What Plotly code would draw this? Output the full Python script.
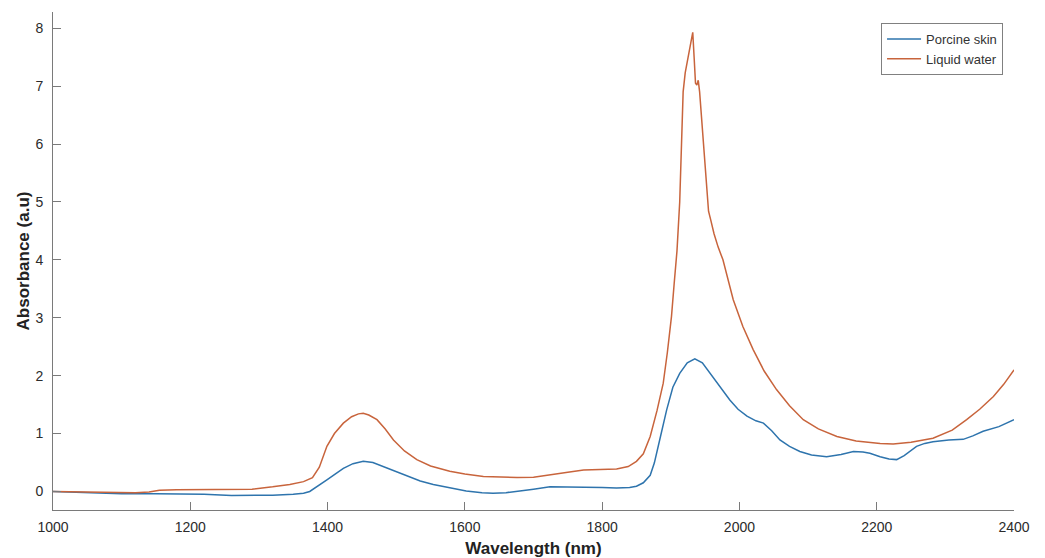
import plotly.graph_objects as go

# ---- data ----
skin_nm = [1000, 1050, 1100, 1150, 1185, 1220, 1260, 1290, 1320, 1350, 1365, 1374, 1387, 1399,
           1411, 1423, 1437, 1452, 1466, 1481, 1497, 1515, 1535, 1554, 1578, 1602, 1625, 1641,
           1660, 1676, 1700, 1724, 1750, 1773, 1800, 1821, 1840, 1850, 1860, 1870, 1876, 1885,
           1894, 1903, 1913, 1924, 1935, 1946, 1957, 1972, 1986, 1998, 2011, 2024, 2035, 2047,
           2059, 2073, 2088, 2105, 2127, 2148, 2166, 2180, 2190, 2205, 2218, 2229, 2240, 2258,
           2270, 2282, 2305, 2326, 2340, 2355, 2378, 2400]
skin_abs = [0.00, -0.02, -0.04, -0.04, -0.04, -0.05, -0.07, -0.07, -0.065, -0.05, -0.03, 0.00,
            0.10, 0.20, 0.30, 0.40, 0.48, 0.52, 0.50, 0.43, 0.35, 0.26, 0.18, 0.12, 0.06, 0.01,
            -0.02, -0.03, -0.02, 0.00, 0.04, 0.08, 0.08, 0.08, 0.07, 0.06, 0.07, 0.09, 0.15,
            0.28, 0.49, 0.95, 1.41, 1.80, 2.04, 2.22, 2.29, 2.22, 2.04, 1.80, 1.58, 1.42, 1.30,
            1.22, 1.18, 1.05, 0.89, 0.78, 0.69, 0.63, 0.60, 0.64, 0.69, 0.68, 0.66, 0.60, 0.56,
            0.55, 0.62, 0.78, 0.83, 0.86, 0.89, 0.90, 0.96, 1.04, 1.12, 1.24]

water_nm = [1000, 1040, 1080, 1120, 1140, 1155, 1180, 1220, 1260, 1290, 1320, 1345, 1365, 1378,
            1388, 1399, 1410, 1423, 1435, 1445, 1452, 1460, 1472, 1484, 1496, 1512, 1530, 1550,
            1578, 1600, 1627, 1650, 1676, 1700, 1724, 1750, 1773, 1800, 1821, 1838, 1850, 1860,
            1870, 1880, 1889, 1895, 1901, 1905, 1909, 1913, 1916, 1918, 1921, 1926, 1932, 1934,
            1936, 1938, 1940, 1942, 1945, 1950, 1955, 1958, 1963, 1969, 1976, 1991, 2005, 2020,
            2036, 2054, 2073, 2093, 2115, 2142, 2170, 2205, 2224, 2250, 2282, 2310, 2331, 2350,
            2370, 2385, 2400]
water_abs = [0.00, -0.01, -0.02, -0.02, -0.01, 0.02, 0.03, 0.03, 0.03, 0.04, 0.08, 0.12, 0.17,
             0.24, 0.42, 0.78, 1.00, 1.18, 1.29, 1.34, 1.35, 1.32, 1.24, 1.08, 0.89, 0.70, 0.55,
             0.44, 0.35, 0.30, 0.26, 0.245, 0.24, 0.245, 0.28, 0.33, 0.37, 0.38, 0.39, 0.43,
             0.52, 0.65, 0.95, 1.40, 1.87, 2.40, 3.02, 3.60, 4.15, 5.00, 6.00, 6.90, 7.23, 7.55,
             7.93, 7.50, 7.05, 7.02, 7.10, 6.90, 6.42, 5.53, 4.84, 4.70, 4.45, 4.22, 4.00, 3.31,
             2.85, 2.45, 2.08, 1.76, 1.48, 1.24, 1.08, 0.95, 0.87, 0.83, 0.82, 0.85, 0.92, 1.06,
             1.24, 1.42, 1.64, 1.85, 2.10]

x_ticks = [1000, 1200, 1400, 1600, 1800, 2000, 2200, 2400]
y_ticks = [0, 1, 2, 3, 4, 5, 6, 7, 8]

FONT = "Liberation Sans, Arial, Helvetica, sans-serif"
AXIS_COLOR = "#7a7a7a"
TEXT_COLOR = "#2b2b2b"

fig = go.Figure()
fig.add_trace(go.Scatter(x=skin_nm, y=skin_abs, mode="lines", name="Porcine skin",
                         line=dict(color="#2e74ad", width=1.5)))
fig.add_trace(go.Scatter(x=water_nm, y=water_abs, mode="lines", name="Liquid water",
                         line=dict(color="#c8643c", width=1.5)))

# the page body adds an 8px offset, so the figure is sized to fill the window exactly
fig.update_layout(
    width=1037, height=550,
    margin=dict(l=45, r=31, t=4, b=48),
    paper_bgcolor="white", plot_bgcolor="white",
    font=dict(family=FONT, size=14, color=TEXT_COLOR),
    showlegend=True,
    legend=dict(x=0.9886, y=0.978, xanchor="right", yanchor="top",
                bgcolor="white", bordercolor="#808080", borderwidth=1,
                font=dict(size=13, color="#333333"), tracegroupgap=0, itemwidth=34),
)
fig.update_xaxes(range=[1000, 2400], tickvals=x_ticks, ticktext=[str(v) for v in x_ticks],
                 showline=True, linecolor=AXIS_COLOR, linewidth=1, mirror=False,
                 ticks="inside", ticklen=8, tickcolor=AXIS_COLOR, showgrid=False,
                 zeroline=False, ticklabelstandoff=4, automargin=False,
                 title=dict(text="<b>Wavelength (nm)</b>", font=dict(size=17, color="#222222"),
                            standoff=8))
fig.update_yaxes(range=[-0.32, 8.28], tickvals=y_ticks, ticktext=[str(v) for v in y_ticks],
                 showline=True, linecolor=AXIS_COLOR, linewidth=1, mirror=False,
                 ticks="inside", ticklen=8, tickcolor=AXIS_COLOR, showgrid=False,
                 zeroline=False, ticklabelstandoff=6, automargin=False,
                 title=dict(text="<b>Absorbance (a.u)</b>", font=dict(size=17, color="#222222"),
                            standoff=1))

fig.write_html("out.html")
